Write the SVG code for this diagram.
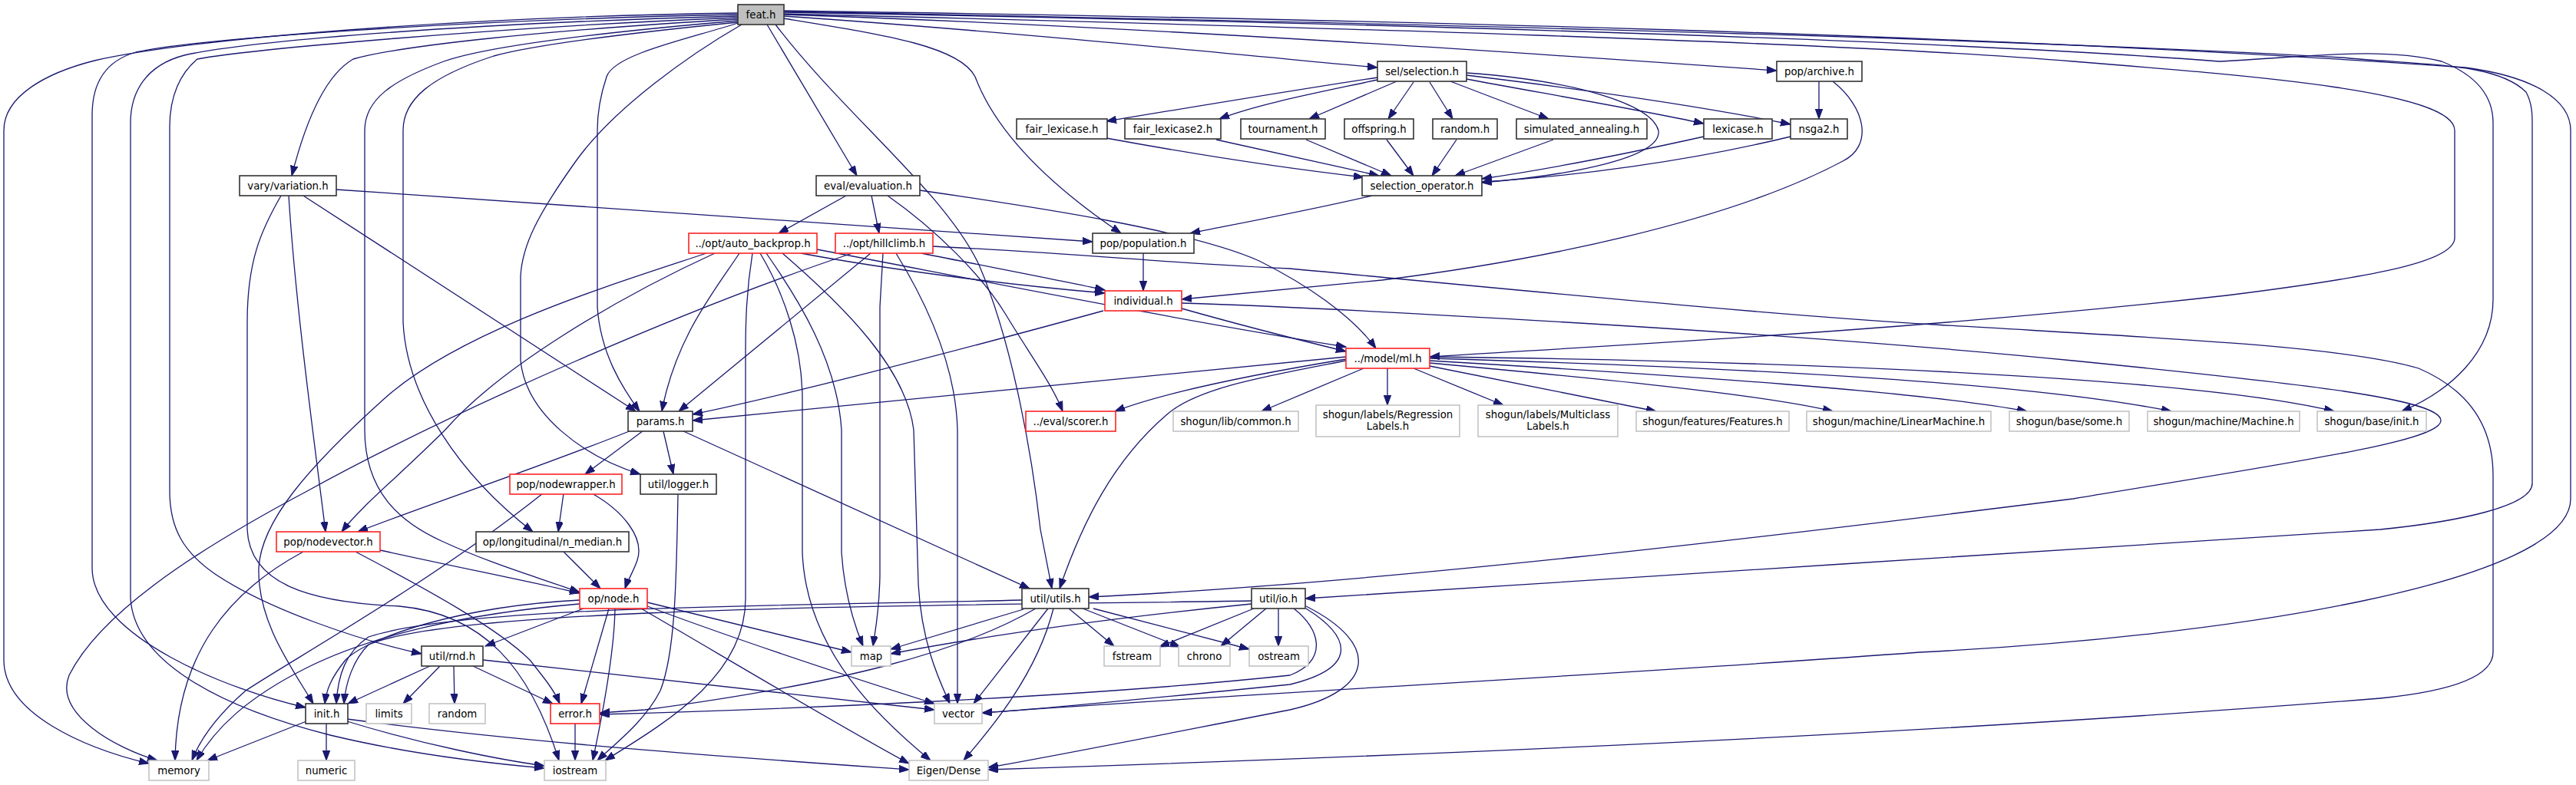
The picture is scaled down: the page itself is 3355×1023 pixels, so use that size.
<svg xmlns="http://www.w3.org/2000/svg" width="3355" height="1023" viewBox="0 0 3355 1023">
<style>
.n rect{fill:#fff;stroke:#333;stroke-width:1.6}
.r rect{fill:#fff;stroke:#f22;stroke-width:1.6}
.g rect{fill:#fff;stroke:#c4c4c4;stroke-width:1.6}
.f rect{fill:#bfbfbf;stroke:#333;stroke-width:1.6}
text{font-family:"DejaVu Sans",sans-serif;font-size:13.3px;text-anchor:middle;fill:#000}
.e path{fill:none;stroke:#191970;stroke-width:1.3;marker-end:url(#a)}
</style>
<defs>
<marker id="a" markerUnits="userSpaceOnUse" markerWidth="14" markerHeight="10" refX="13" refY="4.7" orient="auto">
<path d="M0,0 L13,4.7 L0,9.4 z" fill="#191970" stroke="#191970" stroke-width="1"/>
</marker>
</defs>
<rect width="3355" height="1023" fill="#fff"/>
<g class="e" id="edges">
<path d="M961,17 C600,22 250,50 123,79 C60,95 5,125 5,170 L5,860 C5,930 110,975 194,995"/>
<path d="M961,19 C600,26 260,50 177,68 C135,80 120,110 120,150 L120,740 C120,830 300,900 398,922"/>
<path d="M961,21 C620,30 330,52 240,72 C190,85 170,120 170,160 L170,780 C175,860 280,920 430,958 C530,982 640,995 709,1001"/>
<path d="M961,23 C650,35 320,65 257,77 C235,95 221,125 221,165 L221,640 C221,690 240,720 280,748 C350,795 470,835 549,852"/>
<path d="M961,25 C700,40 520,60 460,77 C420,100 395,170 380,229"/>
<path d="M961,27 C750,45 630,62 578,80 C510,105 475,130 475,170 L475,560 C475,640 520,680 575,705 C640,735 700,752 755,772"/>
<path d="M961,29 C800,45 690,60 643,73 C560,100 525,130 525,170 L525,420 C530,520 600,620 694,693"/>
<path d="M961,30 C900,50 800,70 790,100 C780,130 778,150 778,170 L778,400 C782,460 810,505 833,536"/>
<path d="M966,32 C900,70 800,140 750,210 C700,280 680,320 678,360 L678,470 C685,540 760,595 834,618"/>
<path d="M999,32 L1116,229"/>
<path d="M1010,32 C1100,150 1230,250 1275,345 C1320,450 1345,600 1355,690 L1370,767"/>
<path d="M1021,24 C1150,45 1250,60 1270,100 C1300,180 1380,250 1460,304"/>
<path d="M1021,21 C1300,40 1600,70 1794,88"/>
<path d="M1021,19 C1500,35 2000,70 2314,92"/>
<path d="M1021,18 C1700,35 2400,55 2700,80 C2950,100 3197,120 3197,170 L3197,310 C3197,340 3100,360 2900,385 C2500,430 2100,450 1862,465"/>
<path d="M1021,16 C1700,28 2500,50 2890,80 C3000,75 3100,60 3180,80 C3230,100 3247,130 3247,160 L3247,390 C3247,460 3190,510 3128,536"/>
<path d="M1021,15 C1700,28 2500,45 3050,75 C3150,85 3250,80 3290,120 C3298,135 3298,150 3298,160 L3298,630 C3298,660 3200,680 3100,690 C2700,720 2100,750 1700,780"/>
<path d="M1021,14 C1800,25 2600,45 3211,88 C3300,100 3348,130 3348,170 L3348,650 C3348,760 2900,830 2500,850 C2100,880 1600,905 1279,929"/>
<path d="M438,247 L1423,315"/>
<path d="M376,255 C385,400 410,580 424,693"/>
<path d="M395,255 L828,536"/>
<path d="M366,255 C340,300 322,340 322,420 L322,690 C325,760 400,785 520,790 C630,800 690,870 728,991"/>
<path d="M1102,255 L1014,304"/>
<path d="M1135,255 L1145,304"/>
<path d="M1198,248 C1350,270 1550,300 1640,340 C1700,370 1760,410 1792,454"/>
<path d="M1156,255 C1220,300 1280,360 1310,410 C1340,460 1370,500 1384,536"/>
<path d="M1794,101 C1700,115 1550,140 1441,158"/>
<path d="M1794,104 C1720,120 1640,135 1588,155"/>
<path d="M1819,106 L1705,155"/>
<path d="M1841,107 L1808,155"/>
<path d="M1862,107 L1892,155"/>
<path d="M1889,106 L2017,155"/>
<path d="M1910,103 C2000,120 2120,140 2219,161"/>
<path d="M1910,98 C2050,115 2200,135 2332,162"/>
<path d="M1910,95 C2050,105 2150,135 2160,170 C2165,205 2050,228 1930,238"/>
<path d="M1441,180 C1550,200 1680,220 1776,231"/>
<path d="M1584,182 L1796,229"/>
<path d="M1701,182 L1812,229"/>
<path d="M1806,182 L1841,229"/>
<path d="M1897,182 L1865,229"/>
<path d="M2023,182 L1895,229"/>
<path d="M2219,178 C2120,200 2020,220 1930,233"/>
<path d="M2332,178 C2200,210 2050,230 1930,237"/>
<path d="M2369,106 L2369,155"/>
<path d="M2387,106 C2430,140 2440,190 2400,210 C2250,290 2000,340 1800,365 L1539,390"/>
<path d="M1787,255 C1700,275 1620,290 1550,304"/>
<path d="M1489,330 L1489,379"/>
<path d="M1043,330 C1150,350 1300,370 1439,382"/>
<path d="M1064,325 C1300,370 1550,420 1753,452"/>
<path d="M920,330 C800,370 600,430 500,520 C400,610 340,680 337,740 C335,810 380,870 408,917"/>
<path d="M931,330 C800,390 650,480 580,560 C520,620 470,660 445,693"/>
<path d="M963,330 C930,380 880,440 862,536"/>
<path d="M980,330 C972,380 971,420 971,460 L971,780 C971,880 870,940 788,991"/>
<path d="M990,330 C1020,380 1045,450 1045,520 L1045,720 C1050,850 1150,940 1212,991"/>
<path d="M998,330 C1040,390 1090,470 1096,560 L1096,720 C1100,780 1115,820 1124,842"/>
<path d="M1019,330 C1100,400 1180,480 1190,560 L1196,760 C1200,840 1225,890 1237,917"/>
<path d="M1110,330 C900,400 600,530 400,640 C250,720 130,800 90,880 C70,930 150,975 205,991"/>
<path d="M1134,330 L884,536"/>
<path d="M1200,330 C1300,350 1380,365 1439,378"/>
<path d="M1150,330 L1146,400 L1146,750 C1145,800 1140,820 1137,842"/>
<path d="M1167,330 C1210,400 1245,480 1247,560 L1247,917"/>
<path d="M1215,321 C1400,330 1550,345 1680,350 C2000,380 2300,410 2520,423 C2800,440 3050,450 3150,480 C3220,510 3247,560 3247,620 L3247,850 C3247,880 3200,900 3100,910 C2600,950 2000,980 1287,1003"/>
<path d="M1437,405 C1200,470 1000,520 902,540"/>
<path d="M1539,402 C1620,425 1700,445 1753,458"/>
<path d="M1539,395 C1700,400 2300,430 2700,470 C3000,500 3179,520 3179,548 C3179,575 3000,600 2700,650 C2300,700 1800,760 1418,778"/>
<path d="M1753,465 C1400,500 1100,530 902,548"/>
<path d="M1753,468 C1650,485 1520,510 1452,536"/>
<path d="M1753,470 C1650,490 1560,505 1520,540 C1450,600 1410,680 1380,767"/>
<path d="M1776,480 L1643,536"/>
<path d="M1807,480 L1807,528"/>
<path d="M1841,480 L1958,528"/>
<path d="M1862,477 L2157,536"/>
<path d="M1862,473 C2100,495 2300,515 2387,536"/>
<path d="M1862,470 C2200,490 2500,510 2640,536"/>
<path d="M1862,467 C2300,480 2650,500 2828,536"/>
<path d="M1862,465 C2300,470 2850,490 3040,536"/>
<path d="M822,561 C700,610 550,660 466,693"/>
<path d="M838,561 L762,618"/>
<path d="M864,562 L877,618"/>
<path d="M888,561 L1341,767"/>
<path d="M734,643 L727,693"/>
<path d="M771,643 C810,665 840,700 830,730 C825,745 818,755 814,767"/>
<path d="M707,643 C560,760 380,860 320,900 C280,935 260,965 250,991"/>
<path d="M395,719 C300,770 230,850 228,991"/>
<path d="M495,717 C600,740 700,760 755,773"/>
<path d="M463,719 C560,770 650,820 690,860 C710,885 722,900 729,917"/>
<path d="M734,719 L782,767"/>
<path d="M755,782 C600,790 480,830 450,860 C430,885 425,900 423,917"/>
<path d="M755,787 C600,800 480,830 400,870 C320,910 280,950 256,991"/>
<path d="M760,793 L632,842"/>
<path d="M793,793 L757,917"/>
<path d="M801,793 C800,850 785,930 772,991"/>
<path d="M843,785 L1109,850"/>
<path d="M843,790 C950,830 1100,880 1217,917"/>
<path d="M835,793 C950,860 1100,950 1184,995"/>
<path d="M560,868 L453,917"/>
<path d="M573,868 L525,917"/>
<path d="M591,868 L592,917"/>
<path d="M616,868 L720,917"/>
<path d="M629,860 C800,880 1000,900 1217,925"/>
<path d="M399,940 L270,991"/>
<path d="M425,943 L425,991"/>
<path d="M452,940 C550,970 650,990 709,998"/>
<path d="M452,937 C700,970 1000,990 1184,1003"/>
<path d="M749,943 L749,991"/>
<path d="M883,644 C881,750 880,850 860,900 C840,940 800,970 778,991"/>
<path d="M1331,782 C1000,790 600,790 480,830 C450,850 440,880 438,917"/>
<path d="M1333,794 L1160,846"/>
<path d="M1349,793 C1250,850 1100,890 840,925 L781,929"/>
<path d="M1365,793 L1268,917"/>
<path d="M1372,793 C1350,880 1290,950 1255,991"/>
<path d="M1392,793 L1451,842"/>
<path d="M1410,793 L1537,843"/>
<path d="M1424,793 L1627,846"/>
<path d="M1630,783 C1200,790 600,790 480,840 C460,860 450,890 448,917"/>
<path d="M1630,787 C1400,810 1250,835 1160,852"/>
<path d="M1633,793 L1510,843"/>
<path d="M1649,793 L1590,842"/>
<path d="M1665,793 L1665,842"/>
<path d="M1685,793 C1720,820 1730,860 1680,880 C1400,910 1000,925 781,931"/>
<path d="M1701,793 C1760,830 1770,870 1680,892 C1500,910 1350,925 1279,929"/>
<path d="M1701,790 C1800,840 1790,900 1680,925 C1500,960 1350,990 1287,1000"/>
</g>
<g id="feat" class="f"><rect x="961" y="6" width="60" height="26"/><text x="991" y="23.5">feat.h</text></g>
<g id="vary" class="n"><rect x="312" y="229" width="126" height="26"/><text x="375" y="246.5">vary/variation.h</text></g>
<g id="eval" class="n"><rect x="1063" y="229" width="135" height="26"/><text x="1130.5" y="246.5">eval/evaluation.h</text></g>
<g id="selection" class="n"><rect x="1794" y="80" width="116" height="26"/><text x="1852" y="97.5">sel/selection.h</text></g>
<g id="archive" class="n"><rect x="2314" y="80" width="111" height="26"/><text x="2369.5" y="97.5">pop/archive.h</text></g>
<g id="fair_lexicase" class="n"><rect x="1324" y="155" width="118" height="26"/><text x="1383" y="172.5">fair_lexicase.h</text></g>
<g id="fair_lexicase2" class="n"><rect x="1465" y="155" width="125" height="26"/><text x="1527.5" y="172.5">fair_lexicase2.h</text></g>
<g id="tournament" class="n"><rect x="1616" y="155" width="110" height="26"/><text x="1671" y="172.5">tournament.h</text></g>
<g id="offspring" class="n"><rect x="1751" y="155" width="90" height="26"/><text x="1796" y="172.5">offspring.h</text></g>
<g id="random_h" class="n"><rect x="1866" y="155" width="84" height="26"/><text x="1908" y="172.5">random.h</text></g>
<g id="simulated" class="n"><rect x="1975" y="155" width="170" height="26"/><text x="2060" y="172.5">simulated_annealing.h</text></g>
<g id="lexicase" class="n"><rect x="2219" y="155" width="89" height="26"/><text x="2263.5" y="172.5">lexicase.h</text></g>
<g id="nsga2" class="n"><rect x="2332" y="155" width="74" height="26"/><text x="2369" y="172.5">nsga2.h</text></g>
<g id="selection_operator" class="n"><rect x="1774" y="229" width="156" height="26"/><text x="1852" y="246.5">selection_operator.h</text></g>
<g id="auto_backprop" class="r"><rect x="897" y="304" width="167" height="26"/><text x="980.5" y="321.5">../opt/auto_backprop.h</text></g>
<g id="hillclimb" class="r"><rect x="1088" y="304" width="127" height="26"/><text x="1151.5" y="321.5">../opt/hillclimb.h</text></g>
<g id="population" class="n"><rect x="1423" y="304" width="132" height="26"/><text x="1489" y="321.5">pop/population.h</text></g>
<g id="individual" class="r"><rect x="1439" y="379" width="100" height="26"/><text x="1489" y="396.5">individual.h</text></g>
<g id="ml" class="r"><rect x="1753" y="454" width="109" height="26"/><text x="1807.5" y="471.5">../model/ml.h</text></g>
<g id="params" class="n"><rect x="818" y="536" width="84" height="26"/><text x="860" y="553.5">params.h</text></g>
<g id="scorer" class="r"><rect x="1336" y="536" width="117" height="26"/><text x="1394.5" y="553.5">../eval/scorer.h</text></g>
<g id="common" class="g"><rect x="1528" y="536" width="163" height="26"/><text x="1609.5" y="553.5">shogun/lib/common.h</text></g>
<g id="regression" class="g"><rect x="1714" y="528" width="187" height="41"/><text x="1807.5" y="545">shogun/labels/Regression</text><text x="1807.5" y="560">Labels.h</text></g>
<g id="multiclass" class="g"><rect x="1925" y="528" width="182" height="41"/><text x="2016" y="545">shogun/labels/Multiclass</text><text x="2016" y="560">Labels.h</text></g>
<g id="features" class="g"><rect x="2131" y="536" width="199" height="26"/><text x="2230.5" y="553.5">shogun/features/Features.h</text></g>
<g id="linearmachine" class="g"><rect x="2353" y="536" width="240" height="26"/><text x="2473" y="553.5">shogun/machine/LinearMachine.h</text></g>
<g id="some" class="g"><rect x="2617" y="536" width="156" height="26"/><text x="2695" y="553.5">shogun/base/some.h</text></g>
<g id="machine" class="g"><rect x="2797" y="536" width="198" height="26"/><text x="2896" y="553.5">shogun/machine/Machine.h</text></g>
<g id="shogun_init" class="g"><rect x="3018" y="536" width="142" height="26"/><text x="3089" y="553.5">shogun/base/init.h</text></g>
<g id="nodewrapper" class="r"><rect x="664" y="618" width="146" height="26"/><text x="737" y="635.5">pop/nodewrapper.h</text></g>
<g id="logger" class="n"><rect x="834" y="618" width="99" height="26"/><text x="883.5" y="635.5">util/logger.h</text></g>
<g id="nodevector" class="r"><rect x="360" y="693" width="135" height="26"/><text x="427.5" y="710.5">pop/nodevector.h</text></g>
<g id="n_median" class="n"><rect x="620" y="693" width="199" height="26"/><text x="719.5" y="710.5">op/longitudinal/n_median.h</text></g>
<g id="node" class="r"><rect x="755" y="767" width="88" height="26"/><text x="799" y="784.5">op/node.h</text></g>
<g id="utils" class="n"><rect x="1331" y="767" width="87" height="26"/><text x="1374.5" y="784.5">util/utils.h</text></g>
<g id="io" class="n"><rect x="1630" y="767" width="70" height="26"/><text x="1665" y="784.5">util/io.h</text></g>
<g id="rnd" class="n"><rect x="549" y="842" width="80" height="26"/><text x="589" y="859.5">util/rnd.h</text></g>
<g id="map" class="g"><rect x="1109" y="842" width="51" height="26"/><text x="1134.5" y="859.5">map</text></g>
<g id="fstream" class="g"><rect x="1438" y="842" width="73" height="26"/><text x="1474.5" y="859.5">fstream</text></g>
<g id="chrono" class="g"><rect x="1535" y="842" width="67" height="26"/><text x="1568.5" y="859.5">chrono</text></g>
<g id="ostream" class="g"><rect x="1627" y="842" width="77" height="26"/><text x="1665.5" y="859.5">ostream</text></g>
<g id="init" class="n"><rect x="398" y="917" width="55" height="26"/><text x="425.5" y="934.5">init.h</text></g>
<g id="limits" class="g"><rect x="477" y="917" width="59" height="26"/><text x="506.5" y="934.5">limits</text></g>
<g id="random" class="g"><rect x="559" y="917" width="73" height="26"/><text x="595.5" y="934.5">random</text></g>
<g id="error" class="r"><rect x="717" y="917" width="64" height="26"/><text x="749" y="934.5">error.h</text></g>
<g id="vector" class="g"><rect x="1217" y="917" width="62" height="26"/><text x="1248" y="934.5">vector</text></g>
<g id="memory" class="g"><rect x="194" y="991" width="78" height="26"/><text x="233" y="1008.5">memory</text></g>
<g id="numeric" class="g"><rect x="388" y="991" width="74" height="26"/><text x="425" y="1008.5">numeric</text></g>
<g id="iostream" class="g"><rect x="709" y="991" width="80" height="26"/><text x="749" y="1008.5">iostream</text></g>
<g id="eigen" class="g"><rect x="1184" y="991" width="103" height="26"/><text x="1235.5" y="1008.5">Eigen/Dense</text></g>
</svg>
